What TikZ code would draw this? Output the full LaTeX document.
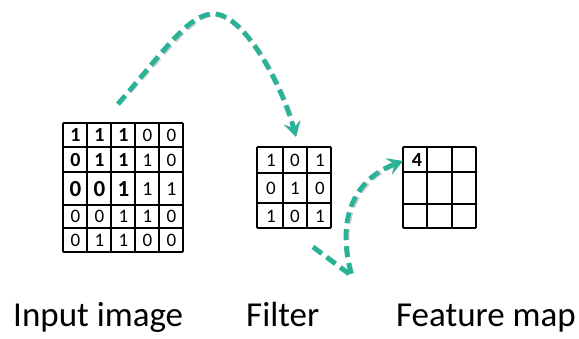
\documentclass[tikz,border=0pt]{standalone}
\usepackage{fontspec}
\setmainfont{Carlito}
\usetikzlibrary{calc}
\usetikzlibrary{arrows.meta}
\definecolor{flowgreen}{RGB}{40,178,150}

\tikzset{
  rg/.style={font=\fontsize{19}{21}\selectfont, inner sep=0pt},
  bd/.style={font=\bfseries\fontsize{20}{22}\selectfont, inner sep=0pt},
  bdbig/.style={font=\bfseries\fontsize{23}{25}\selectfont, inner sep=0pt},
  rgbig/.style={font=\fontsize{20}{22}\selectfont, inner sep=0pt},
  caption/.style={font=\fontsize{35}{40}\selectfont, anchor=base, inner sep=0pt},
  gridline/.style={line width=1.1pt, black},
  flow/.style={line width=4.8pt, dash pattern=on 11pt off 6pt, flowgreen, line join=round,
    -{Stealth[length=15pt, width=17pt, inset=6pt]}},
  flowshadow/.style={flow, black!45, opacity=.45, shift={(1.8,1.8)}}
}

\begin{document}
\begin{tikzpicture}[x=1pt, y=-1pt]
\useasboundingbox (0,0) rectangle (579,338);

% input image, 5x5
\foreach \x in {63,87,111,135,159,183}
  \draw[gridline] (\x,123) -- (\x,252);
\foreach \y in {123,147,172,205,228,252}
  \draw[gridline] (63,\y) -- (183,\y);
\foreach \v/\s [count=\c] in {1/bd,1/bd,1/bd,0/rg,0/rg}
  \node[\s] (in-1-\c) at (51.5+24*\c,135.5) {\v};
\foreach \v/\s [count=\c] in {0/bd,1/bd,1/bd,1/rg,0/rg}
  \node[\s] (in-2-\c) at (51.5+24*\c,160) {\v};
\foreach \v/\s [count=\c] in {0/bdbig,0/bdbig,1/bdbig,1/rgbig,1/rgbig}
  \node[\s] (in-3-\c) at (51.5+24*\c,189) {\v};
\foreach \v [count=\c] in {0,0,1,1,0}
  \node[rg] (in-4-\c) at (51.5+24*\c,216.5) {\v};
\foreach \v [count=\c] in {0,1,1,0,0}
  \node[rg] (in-5-\c) at (51.5+24*\c,240.5) {\v};

% filter, 3x3
\foreach \x in {257,283,307,331}
  \draw[gridline] (\x,147) -- (\x,228);
\foreach \y in {147,173,203,228}
  \draw[gridline] (257,\y) -- (331,\y);
\foreach \v/\x [count=\c] in {1/271,0/295,1/320}
  \node[rg] (flt-1-\c) at (\x,160.5) {\v};
\foreach \v/\x [count=\c] in {0/271,1/295,0/320}
  \node[rg] (flt-2-\c) at (\x,188.5) {\v};
\foreach \v/\x [count=\c] in {1/271,0/295,1/320}
  \node[rg] (flt-3-\c) at (\x,216) {\v};

% feature map, only the first entry is known
\foreach \x in {403,427,452,476}
  \draw[gridline] (\x,147) -- (\x,228);
\foreach \y in {147,172,204,228}
  \draw[gridline] (403,\y) -- (476,\y);
\node[bd] (fm-1-1) at (417,160) {4};

% curved dashed arrows
\coordinate (a1) at (118,104);
\coordinate (a2) at (215,14);
\coordinate (a3) at (296,137);
\coordinate (b1) at (313,247);
\coordinate (b2) at (352,276);
\coordinate (b3) at (403,161);
\foreach \st in {flowshadow,flow}{
  \draw[\st] (a1) .. controls (165,50) and (190,12) .. (a2)
    .. controls (245,16) and (282,85) .. (a3);
  \draw[\st] (b1) -- (b2) .. controls (336,222) and (352,180) .. (b3);
}

\node[caption, anchor=base west] (lbl-in) at (13,326) {Input image};
\node[caption, anchor=base west] (lbl-flt) at (246,326) {Filter};
\node[caption, anchor=base east] (lbl-fm) at (576,326) {Feature map};
\end{tikzpicture}
\end{document}
